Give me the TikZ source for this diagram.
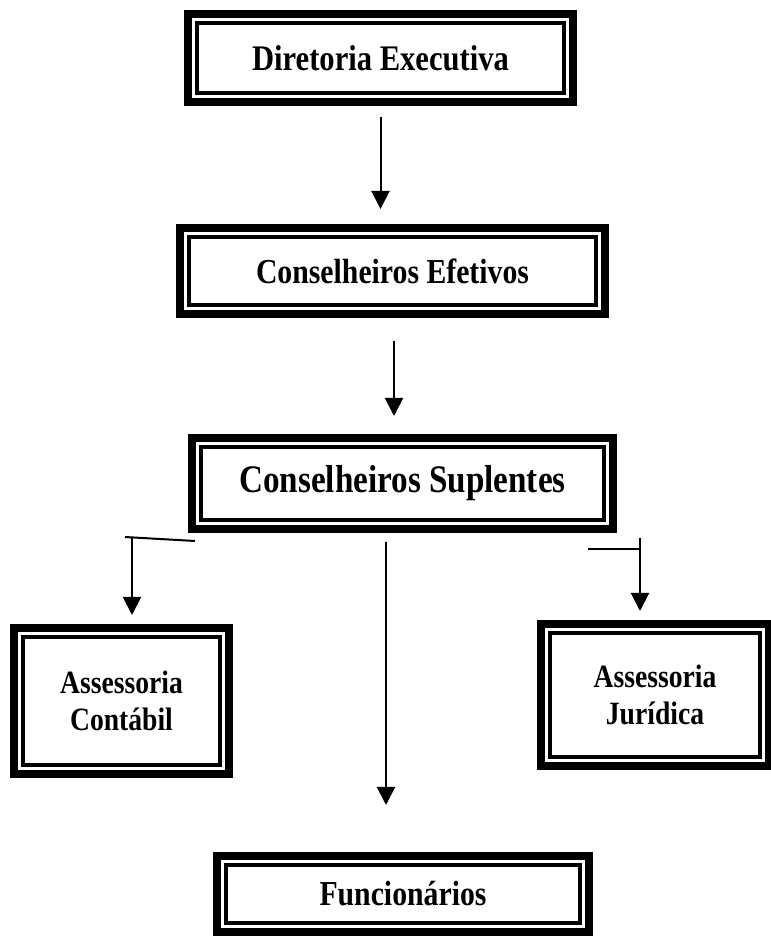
\documentclass[tikz,border=0pt]{standalone}
\usepackage{fontspec}
\newfontfamily\boxfont[FakeStretch=0.85]{Liberation Serif}
\usetikzlibrary{arrows.meta}
\newcommand{\bsize}[1]{\boxfont\bfseries\fontsize{#1}{1.12\dimexpr#1\relax}\selectfont}

\begin{document}
\begin{tikzpicture}[x=1pt,y=1pt,
        box/.style = {draw, rectangle, line width=8pt, inner sep=0pt, align=center,
          path picture={\draw[line width=3.5pt]
            ([shift={(9pt,-9pt)}]path picture bounding box.north west) rectangle
            ([shift={(-9pt,9pt)}]path picture bounding box.south east);}},
]
\tikzstyle{connect}=[-{Triangle[width=18pt,length=18pt]}, line width=2pt]
\tikzstyle{stub}=[line width=2pt]

\useasboundingbox (0,0) rectangle (771,938);

	\node[box, minimum width=385pt, minimum height=88pt, font=\bsize{36pt}] (dir) at (380.5,880) {Diretoria Executiva};
	\node[box, minimum width=425pt, minimum height=86pt, font=\bsize{35pt}] (cef) at (392.5,667) {Conselheiros Efetivos};
	\node[box, minimum width=421pt, minimum height=91pt, font=\bsize{39pt}] (csu) at (402.5,454.5) {Conselheiros Suplentes};

	\node[box, minimum width=215pt, minimum height=146pt, font=\bsize{32.5pt}] (asc) at (121.5,237) {Assessoria\\Contábil};
	\node[box, minimum width=228pt, minimum height=142pt, font=\bsize{32.5pt}] (asj) at (655,243) {Assessoria\\Jurídica};

	\node[box, minimum width=372pt, minimum height=76pt, font=\bsize{35pt}] (fun) at (403,44) {Funcionários};

	% branch points under the Suplentes box
	\coordinate (ll) at (125,401);
	\coordinate (lr) at (195,397);
	\coordinate (lt) at (132,400);
	\coordinate (rl) at (588,389);
	\coordinate (rt) at (640,400);
	\coordinate (mid) at (386,133);

	\draw[connect, shorten <=11pt, shorten >=15pt] (dir.south) -- (dir.south |- cef.north);
	\draw[connect, shorten <=23pt, shorten >=18pt] ([xshift=1.5pt]cef.south) -- ([xshift=1.5pt]cef.south |- csu.north);

	\draw[stub] (ll) -- (lr);
	\draw[connect, shorten >=9pt] (lt) -- (lt |- asc.north);

	\draw[stub] (rl) -- (rl -| rt);
	\draw[connect, shorten >=9pt] (rt) -- (rt |- asj.north);

	\draw[connect, shorten <=9pt] (csu.south -| mid) -- (mid);

\end{tikzpicture}
\end{document}
